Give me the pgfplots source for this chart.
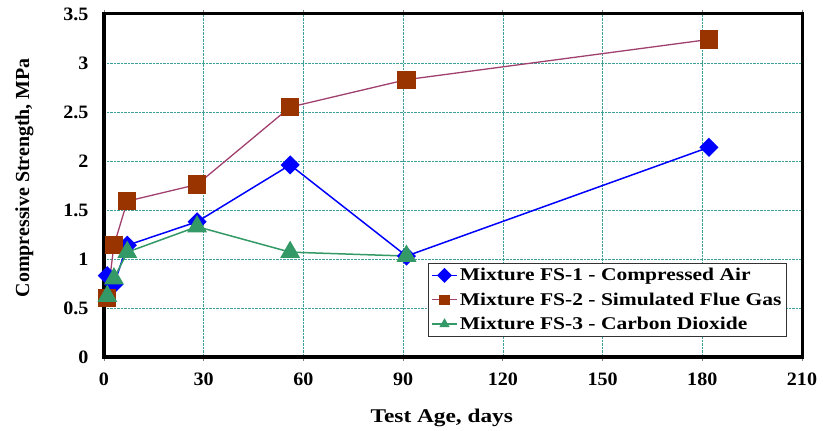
\documentclass[border=0pt]{standalone}
\usepackage{fontspec}
\setmainfont{Liberation Serif}
\newfontfamily\widefont[FakeStretch=1.2]{Liberation Serif}
\newfontfamily\tickfont[FakeStretch=1.06]{Liberation Serif}
\usepackage{pgfplots}
\pgfplotsset{compat=1.18}
\definecolor{fsblue}{RGB}{0,0,255}
\definecolor{fsbrown}{RGB}{153,51,0}
\definecolor{fsline}{RGB}{160,64,110}
\definecolor{fsgreen}{RGB}{51,153,102}
\definecolor{gridc}{RGB}{60,160,150}
\begin{document}
\begin{tikzpicture}
\useasboundingbox (0,0) rectangle (823bp,431bp);
\begin{axis}[
  at={(104bp,74bp)}, anchor=south west,
  scale only axis,
  width=698bp, height=343bp,
  xmin=0, xmax=210, ymin=0, ymax=3.5,
  xtick={0,30,...,210},
  ytick={0,0.5,...,3.5},
  yticklabels={0,0.5,1,1.5,2,2.5,3,3.5},
  /pgf/number format/assume math mode=true,
  ticklabel style={font=\tickfont\fontsize{19}{21}\selectfont\bfseries},
  xticklabel style={yshift=-8bp},
  yticklabel style={xshift=-8bp},
  tick align=outside,
  major tick length=4bp,
  xtick style={gray, line width=0.8bp},
  ytick style={draw=none},
  axis line style={line width=3bp, black},
  grid=major,
  major grid style={densely dotted, gridc, line width=0.7bp},
  xlabel={Test Age, days},
  ylabel={Compressive Strength, MPa},
  xlabel style={font=\widefont\fontsize{19.5}{22}\selectfont\bfseries,
    at={(axis description cs:0.484,-0.178)}, anchor=center},
  ylabel style={font=\fontsize{20}{22}\selectfont\bfseries,
    at={(axis description cs:-0.114,0.523)}, anchor=center},
  legend style={at={(0.464,0.274)}, anchor=north west,
    font=\widefont\fontsize{18}{21}\selectfont\bfseries,
    draw=black!80, line width=0.8bp, fill=white,
    row sep=6.5bp, inner xsep=3bp, inner ysep=3bp},
  legend cell align=left,
  legend image code/.code={
    \draw[mark repeat=2,mark phase=2,#1] plot coordinates {(0bp,0bp) (12.5bp,0bp) (25bp,0bp)};},
  legend image post style={mark size=4.5bp},
]
\addplot[color=fsblue, line width=1.5bp, mark=square*, mark size=6bp,
  mark options={rotate=45, fill=fsblue, draw=fsblue}]
  coordinates {(1,0.83) (3,0.74) (7,1.14) (28,1.38) (56,1.96) (91,1.03) (182,2.14)};
\addlegendentry{Mixture FS-1 - Compressed Air}
\addplot[color=fsline, line width=1.3bp, mark=square*, mark size=8.5bp,
  mark options={fill=fsbrown, draw=fsbrown}]
  coordinates {(1,0.60) (3,1.14) (7,1.59) (28,1.76) (56,2.55) (91,2.83) (182,3.24)};
\addlegendentry{Mixture FS-2 - Simulated Flue Gas}
\addplot[color=fsgreen, line width=1.5bp, mark=triangle*, mark size=10bp,
  mark options={fill=fsgreen, draw=fsgreen}]
  coordinates {(1,0.62) (3,0.80) (7,1.07) (28,1.33) (56,1.07) (91,1.03)};
\addlegendentry{Mixture FS-3 - Carbon Dioxide}
\end{axis}
\end{tikzpicture}
\end{document}
